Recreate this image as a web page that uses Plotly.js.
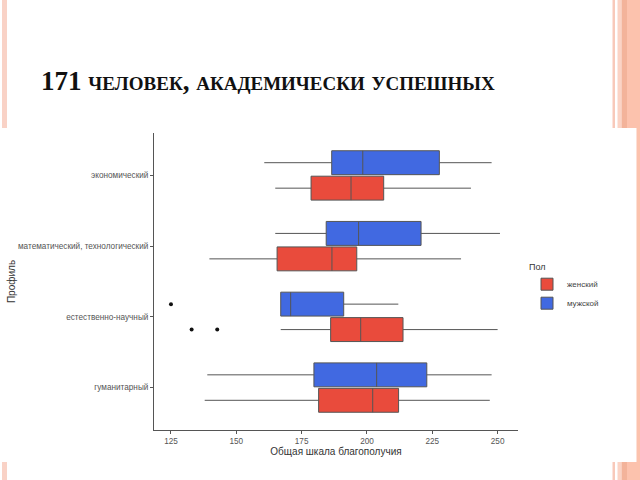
<!DOCTYPE html>
<html><head><meta charset="utf-8">
<script src="https://cdn.plot.ly/plotly-3.0.1.min.js"></script>
<style>html,body{margin:0;padding:0;background:#fff}#chart{width:640px;height:480px}</style>
</head><body><div id="chart"></div>
<script>
// Data
var categories = ['гуманитарный', 'естественно-научный', 'математический, технологический', 'экономический'];
var groups = ['женский', 'мужской'];

var femaleLower  = [137.9, 167.0, 139.7, 164.9];
var femaleQ1     = [181.5, 186.1, 165.6, 178.6];
var femaleMedian = [202.2, 197.6, 186.6, 193.9];
var femaleQ3     = [212.1, 213.8, 196.1, 206.4];
var femaleUpper  = [247.0, 250.0, 236.0, 239.8];

var maleLower  = [138.9, 167.0, 164.9, 160.7];
var maleQ1     = [179.7, 167.0, 184.4, 186.5];
var maleMedian = [203.7, 170.8, 196.8, 198.4];
var maleQ3     = [222.9, 191.1, 220.7, 227.7];
var maleUpper  = [247.7, 212.0, 250.9, 247.7];

var femaleOutlierCat = ['естественно-научный', 'естественно-научный'];
var femaleOutlierVal = [132.9, 142.7];
var maleOutlierCat = ['естественно-научный'];
var maleOutlierVal = [125.0];

var xTicks = [125, 150, 175, 200, 225, 250];

// Layout geometry (pixels)
var W = 640, H = 480;
var L = 154, R = 518, T = 133, B = 430;
function px(x){ return (x - L) / (R - L); }
function py(y){ return (B - y) / (B - T); }
function rect(x0, y0, x1, y1, color){
  return {type:'rect', xref:'paper', yref:'paper', x0:px(x0), x1:px(x1), y0:py(y1), y1:py(y0),
          fillcolor:color, line:{width:0}, layer:'below'};
}
var shapes = [];
[[0,128],[462,480]].forEach(function(r){
  shapes.push(rect(612.5, r[0], 615, r[1], '#f8c9ba'));
  shapes.push(rect(617.5, r[0], 621.5, r[1], '#fbd3c5'));
  shapes.push(rect(621.5, r[0], 627, r[1], '#f3b39a'));
  shapes.push(rect(627, r[0], 640, r[1], '#fcc2ad'));
  shapes.push(rect(2, r[0], 7, r[1], '#f9d2c6'));
});
shapes.push(rect(636.5, 128, 640, 462, '#fcc2ad'));

var red = '#E94B3C', blue = '#4169E1', edge = '#555555';

function boxTrace(name, lower, q1, med, q3, upper, color, og){
  return {type:'box', orientation:'h', name:name, y:categories,
    q1:q1, median:med, q3:q3, lowerfence:lower, upperfence:upper,
    fillcolor:color, line:{color:edge, width:1}, whiskerwidth:0,
    offsetgroup:og, boxpoints:false, hoverinfo:'x'};
}
function outTrace(cat, vals, og){
  return {type:'scatter', mode:'markers', orientation:'h', y:cat, x:vals, offsetgroup:og,
    marker:{color:'#111', size:4}, showlegend:false, hoverinfo:'x'};
}

var data = [
  boxTrace(groups[0], femaleLower, femaleQ1, femaleMedian, femaleQ3, femaleUpper, red, 'f'),
  boxTrace(groups[1], maleLower, maleQ1, maleMedian, maleQ3, maleUpper, blue, 'm'),
  outTrace(femaleOutlierCat, femaleOutlierVal, 'f'),
  outTrace(maleOutlierCat, maleOutlierVal, 'm')
];

var axisFont = {family:'Liberation Sans, Arial, sans-serif', size:8.2, color:'#555'};
var layout = {
  width:W, height:H,
  margin:{l:L, r:W-R, t:T, b:H-B, pad:0},
  paper_bgcolor:'#fff', plot_bgcolor:'#fff',
  font:{family:'Liberation Sans, Arial, sans-serif'},
  title:{text:'171 человек, академически успешных', x:41/W, xref:'container', xanchor:'left',
    y:1-81/H, yref:'container', yanchor:'middle',
    font:{family:'Liberation Serif, Times New Roman, serif', size:27, color:'#111', weight:'bold', variant:'small-caps'}},
  boxmode:'group', boxgap:0.28, boxgroupgap:0.06,
  scattermode:'group', scattergap:0.28,
  xaxis:{range:[118.5, 257.8], tickvals:xTicks, ticktext:xTicks.map(String), showgrid:false, zeroline:false,
    showline:true, linecolor:'#555', linewidth:1, ticks:'outside', ticklen:3, tickcolor:'#555',
    tickfont:axisFont, title:{text:'Общая шкала благополучия', font:{size:10, color:'#333'}, standoff:3}},
  yaxis:{type:'category', categoryorder:'array', categoryarray:categories, range:[-0.6, 3.6],
    showgrid:false, zeroline:false, showline:true, linecolor:'#555', linewidth:1,
    ticks:'outside', ticklen:3, tickcolor:'#555', tickfont:axisFont,
    title:{text:'Профиль', font:{size:10, color:'#333'}, standoff:0}},
  legend:{x:px(527), xanchor:'left', y:py(258), yanchor:'top', bgcolor:'rgba(0,0,0,0)',
    title:{text:'Пол', font:{size:9, color:'#333'}}, font:{size:8, color:'#444'}, tracegroupgap:0},
  shapes:shapes,
  showlegend:true
};
Plotly.newPlot('chart', data, layout, {staticPlot:true});
</script></body></html>
